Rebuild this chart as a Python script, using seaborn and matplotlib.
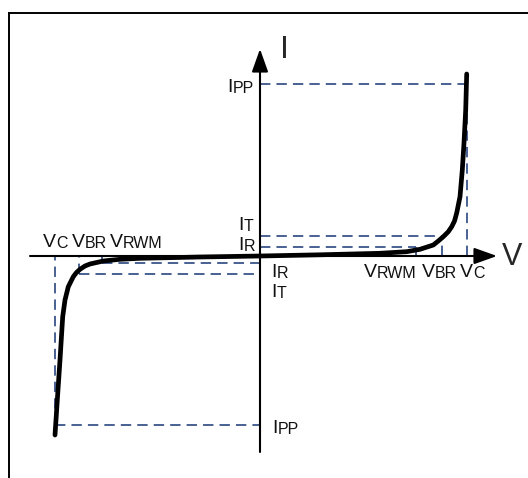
import matplotlib.pyplot as plt
import seaborn as sns
import numpy as np

# Đặc tuyến V-I của diode TVS (đơn vị tùy ý, gốc tọa độ ở giữa)
v_curve = [-20.5, -20.27, -20.0, -19.73, -19.5, -19.17, -18.67, -18.35, -18.0, -17.5, -17.0,
           -15.67, -14.0, -12.0, -6.0, 0.0, 6.0, 12.0, 14.67, 16.0, 17.33, 17.83, 18.33,
           18.83, 19.17, 19.45, 19.67, 20.0, 20.23, 20.4, 20.57, 20.67]
i_curve = [-17.9, -14.4, -10.4, -6.07, -4.4, -3.07, -2.07, -1.65, -1.33, -1.0, -0.8,
           -0.5, -0.33, -0.23, -0.1, 0.0, 0.12, 0.27, 0.43, 0.67, 1.1, 1.5, 1.93,
           2.43, 2.93, 3.5, 4.3, 5.93, 8.6, 11.3, 14.6, 18.2]

# Các mức đặc trưng: V_RWM, V_BR, V_C và I_R, I_T, I_PP
v_pos = [15.6, 18.2, 20.7]
i_pos = [0.87, 2.0, 17.2]
v_neg = [-15.77, -18.07, -20.5]
i_neg = [-0.73, -1.83, -16.9]

sns.set_style('white')
plt.rcParams['font.family'] = ['Liberation Sans', 'DejaVu Sans']

fig = plt.figure(figsize=(5.28, 4.78), dpi=100)
ax = fig.add_axes([9 / 528, 0, 519 / 528, 465 / 478])
ax.set_xlim(-25.1, 26.8)
ax.set_ylim(-22.2, 24.3)
ax.set_xticks([])
ax.set_yticks([])
for side in ['right', 'bottom']:
    ax.spines[side].set_visible(False)
for side in ['top', 'left']:
    ax.spines[side].set_color('black')
    ax.spines[side].set_linewidth(1.4)

# Trục V và I có mũi tên
arrow = dict(arrowstyle='-|>,head_length=0.7,head_width=0.25', mutation_scale=20,
             lw=1.5, color='black', shrinkA=0, shrinkB=0)
ax.annotate('', xy=(23.7, 0), xytext=(-23.0, 0), arrowprops=arrow)
ax.annotate('', xy=(0, 20.7), xytext=(0, -19.6), arrowprops=arrow)

# Đường gióng nét đứt
dash_color = '#203f7a'
dash = (0, (6.5, 3.8))
ax.hlines(i_pos, 0, v_pos, colors=dash_color, linestyles=dash, lw=1.15)
ax.vlines(v_pos, 0, i_pos, colors=dash_color, linestyles=dash, lw=1.15)
ax.hlines(i_neg, v_neg, 0, colors=dash_color, linestyles=dash, lw=1.15)
ax.vlines(v_neg, i_neg, 0, colors=dash_color, linestyles=dash, lw=1.15)

# Đường cong
sns.lineplot(x=v_curve, y=i_curve, sort=False, estimator=None, color='black',
             lw=3.4, ax=ax, zorder=4)


def label(x, y, big, small, size=14, small_size=11.5):
    t = ax.text(x, y, big, fontsize=size, va='baseline', ha='left', color='#111111')
    if small:
        ax.annotate(small, xy=(1, 0), xycoords=t, fontsize=small_size,
                    va='bottom', ha='left', color='#111111')
    return t


ax.text(2.0, 19.8, 'I', fontsize=23, va='baseline', ha='left')
ax.text(24.2, -0.9, 'V', fontsize=22, va='baseline', ha='left')

label(-3.3, 16.4, 'I', 'PP')
label(-2.2, 2.6, 'I', 'T')
label(-2.2, 0.6, 'I', 'R')
label(1.1, -2.1, 'I', 'R')
label(1.1, -4.1, 'I', 'T')
label(1.2, -17.7, 'I', 'PP')

label(10.4, -2.1, 'V', 'RWM')
label(16.2, -2.1, 'V', 'BR')
label(20.0, -2.1, 'V', 'C')
label(-21.7, 0.9, 'V', 'C')
label(-18.8, 0.9, 'V', 'BR')
label(-15.0, 0.9, 'V', 'RWM')

fig.savefig('out.png', dpi=100)
